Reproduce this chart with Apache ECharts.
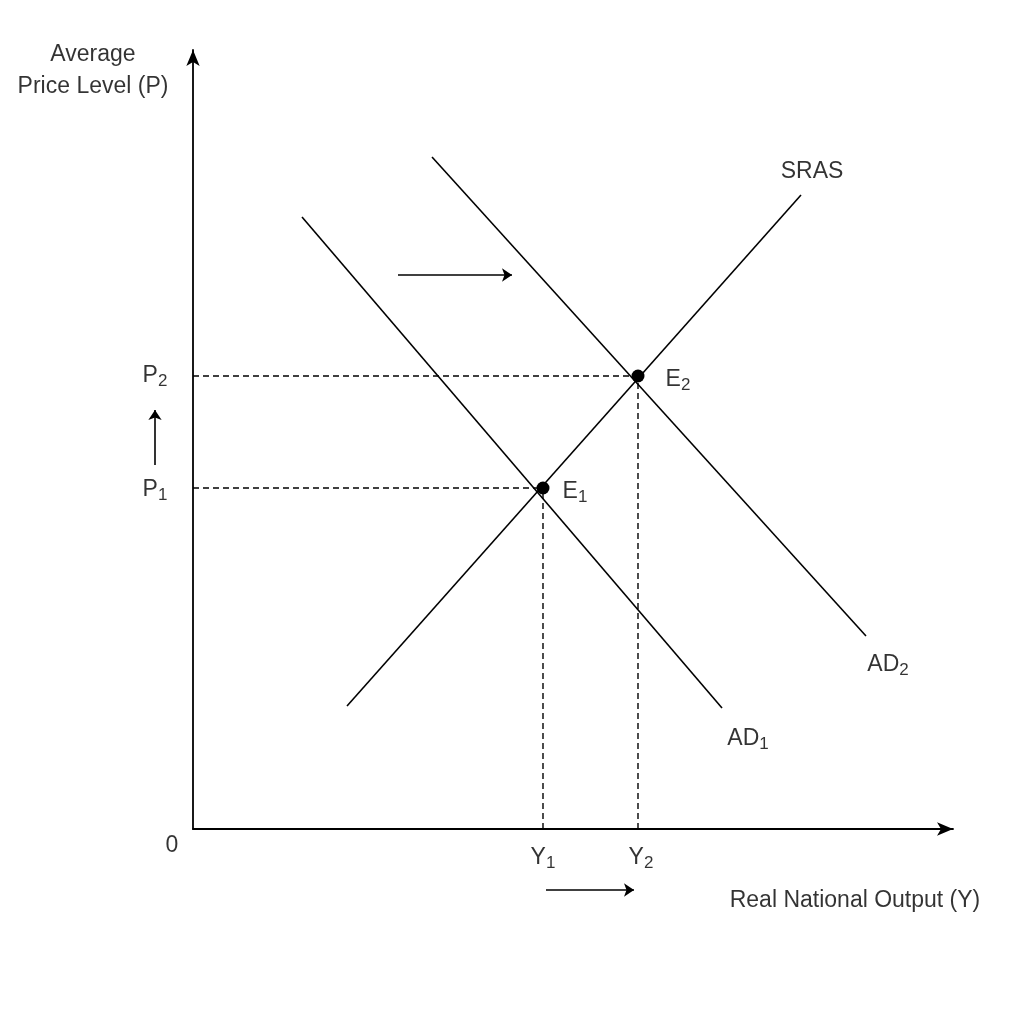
<!DOCTYPE html>
<html><head><meta charset="utf-8">
<script src="https://cdn.jsdelivr.net/npm/echarts@6/dist/echarts.min.js"></script>
<style>html,body{margin:0;background:#fff}#c{width:1024px;height:1024px}</style>
</head><body><div id="c"></div>
<script>
// data in plot units (origin = axes corner)
const sras = [[154,123],[608,634]];
const ad1 = [[109,612],[529,121]];
const ad2 = [[239,672],[673,193]];
const e1 = [350,341];
const e2 = [445,453];
const shiftArrowTop = [[205,554],[319,554]];
const shiftArrowY = [[353,-61],[441,-61]];
const shiftArrowP = [[-38,364],[-38,419]];
const labels = [
  {t:'{n|P}{s|2}', p:[-38,453]},
  {t:'{n|P}{s|1}', p:[-38,339]},
  {t:'{n|E}{s|2}', p:[485,449]},
  {t:'{n|E}{s|1}', p:[382,337]},
  {t:'{n|Y}{s|1}', p:[350,-29]},
  {t:'{n|Y}{s|2}', p:[448,-29]},
  {t:'{n|0}', p:[-21,-17]},
  {t:'{n|SRAS}', p:[619,657]},
  {t:'{n|AD}{s|2}', p:[695,164]},
  {t:'{n|AD}{s|1}', p:[555,90]},
  {t:'{n|Average}', p:[-100,774]},
  {t:'{n|Price Level (P)}', p:[-100,742]},
  {t:'{n|Real National Output (Y)}', p:[662,-72]}
];
const ln = {color:'#000', width:1.6, opacity:1};
const dash = {color:'#000', width:1.4, type:[6,4], opacity:1};
function line(d, style){return {type:'line', data:d, symbol:'none', lineStyle:style, clip:false, silent:true, animation:false};}
function arrow(d){return {type:'lines', coordinateSystem:'cartesian2d', data:[{coords:d}], symbol:['none','arrow'], symbolSize:10, lineStyle:{color:'#000',width:1.6,opacity:1}, clip:false, animation:false};}
const chart = echarts.init(document.getElementById('c'));
chart.setOption({
  backgroundColor:'#fff',
  grid:{left:193, top:50, width:760, height:779},
  xAxis:{type:'value', min:0, max:760, axisLine:{lineStyle:{color:'#000',width:1.8}, symbol:['none','arrow'], symbolSize:[10,16]}, axisTick:{show:false}, axisLabel:{show:false}, splitLine:{show:false}},
  yAxis:{type:'value', min:0, max:779, axisLine:{lineStyle:{color:'#000',width:1.8}, symbol:['none','arrow'], symbolSize:[10,16]}, axisTick:{show:false}, axisLabel:{show:false}, splitLine:{show:false}},
  series:[
    line(sras, ln), line(ad1, ln), line(ad2, ln),
    line([[0,e1[1]],e1], dash), line([[e1[0],0],e1], dash),
    line([[0,e2[1]],e2], dash), line([[e2[0],0],e2], dash),
    {type:'scatter', data:[e1,e2], symbolSize:13, itemStyle:{color:'#000', opacity:1}, animation:false},
    arrow(shiftArrowTop), arrow(shiftArrowY), arrow(shiftArrowP),
    {type:'scatter', symbolSize:0, clip:false, animation:false,
     data:labels.map(l=>({value:l.p, label:{formatter:l.t}})),
     label:{show:true, position:'inside', rich:{
       n:{fontFamily:'Liberation Sans', fontSize:23, color:'#000'},
       s:{fontFamily:'Liberation Sans', fontSize:17, color:'#000', verticalAlign:'bottom', padding:[10,0,0,0]}
     }}}
  ]
});
</script></body></html>
